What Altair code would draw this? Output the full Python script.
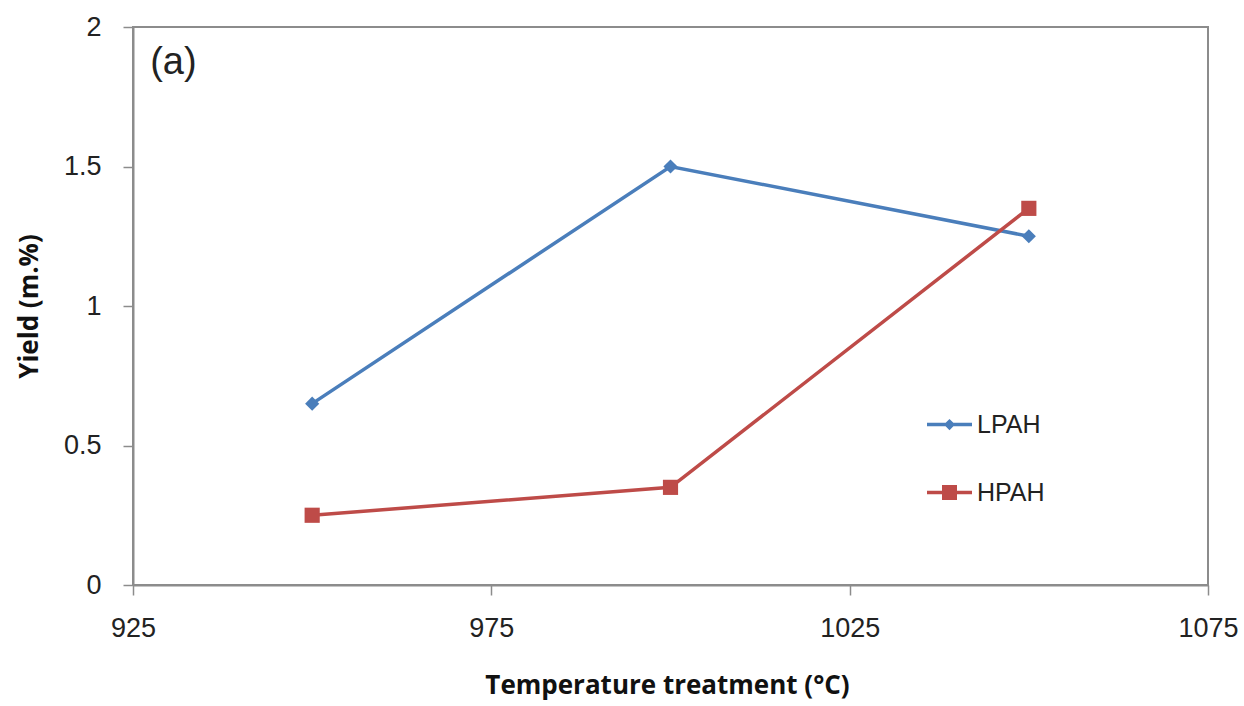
import altair as alt
import pandas as pd

# ---- data ----
temps = [950, 1000, 1050]
lpah = [0.65, 1.5, 1.25]
hpah = [0.25, 0.35, 1.35]
series_names = ["LPAH", "HPAH"]
series_colors = ["#4A7EBB", "#BE4B48"]
series_shapes = ["diamond", "square"]
series_sizes = [200, 230]
x_ticks = [925, 975, 1025, 1075]
y_ticks = [0, 0.5, 1, 1.5, 2]
panel_label = ["(a)"]
panel_label_x = [927.4]
panel_label_y = [1.87]

rows = []
for t, v in zip(temps, lpah):
    rows.append({"temp": t, "yield": v, "series": "LPAH"})
for t, v in zip(temps, hpah):
    rows.append({"temp": t, "yield": v, "series": "HPAH"})
df = pd.DataFrame(rows)
ann = pd.DataFrame({"temp": panel_label_x, "yield": panel_label_y, "txt": panel_label})

FONT = "Liberation Sans"
TFONT = "Open Sans"
GRAY = "#8c8c8c"

x_enc = alt.X("temp:Q", scale=alt.Scale(domain=[925, 1075], nice=False, zero=False),
              axis=alt.Axis(values=x_ticks, title="Temperature treatment (°C)", format="d",
                            labelFlush=False,
                            titleX=534, titleY=108, titleBaseline="alphabetic", titleAlign="center"))
y_enc = alt.Y("yield:Q", scale=alt.Scale(domain=[0, 2], nice=False),
              axis=alt.Axis(values=y_ticks, title="Yield (m.%)", format="~g",
                            titleX=-96, titleY=279, titleBaseline="alphabetic", titleAlign="center",
                            titleAngle=270))

base = alt.Chart(df)
layers = []
for name, col, shp, sz in zip(series_names, series_colors, series_shapes, series_sizes):
    sub = base.transform_filter(alt.datum.series == name)
    layers.append(sub.mark_line(strokeWidth=3.5, color=col).encode(x=x_enc, y=y_enc))
    layers.append(sub.mark_point(shape=shp, filled=True, size=sz, opacity=1, color=col)
                  .encode(x=x_enc, y=y_enc))

legend_paths = [
    "M-3,-0.22H3V0.22H-3Z M0,-0.75L0.75,0L0,0.75L-0.75,0Z",
    "M-3,-0.22H3V0.22H-3Z M-1,-1H1V1H-1Z",
]
leg = alt.Legend(orient="none", legendX=804, legendY=385, padding=0, title=None,
                 labelOffset=15, rowPadding=42, symbolSize=225, symbolOpacity=1,
                 symbolStrokeWidth=0, labelFontSize=25, labelFont=FONT, labelColor="#222222",
                 labelBaseline="middle")
legend_layer = base.mark_point(filled=True, opacity=0).encode(
    x=x_enc, y=y_enc,
    color=alt.Color("series:N", scale=alt.Scale(domain=series_names, range=series_colors), legend=leg),
    shape=alt.Shape("series:N", scale=alt.Scale(domain=series_names, range=legend_paths), legend=leg),
)
layers.append(legend_layer)

label = alt.Chart(ann).mark_text(align="left", baseline="middle", fontSize=38, font=FONT,
                                 color="#222222").encode(
    x=alt.X("temp:Q"), y=alt.Y("yield:Q"), text="txt:N")
layers.append(label)

chart = alt.layer(*layers).properties(
    width=1075, height=558,
    autosize=alt.AutoSizeParams(type="none"),
    padding={"left": 133, "top": 27, "right": 36, "bottom": 121},
).configure_view(stroke=GRAY, strokeWidth=2).configure_axis(
    grid=False, domainColor=GRAY, domainWidth=2, tickColor=GRAY, tickSize=10, tickWidth=1.5,
    labelFont=FONT, labelFontSize=27, labelColor="#222222",
    titleFont=TFONT, titleFontSize=26, titleFontWeight="bold", titleColor="#111111",
).configure_axisY(labelPadding=22).configure_axisX(labelPadding=20)

chart.save("out.html", embed_options={"renderer": "svg", "actions": False})
